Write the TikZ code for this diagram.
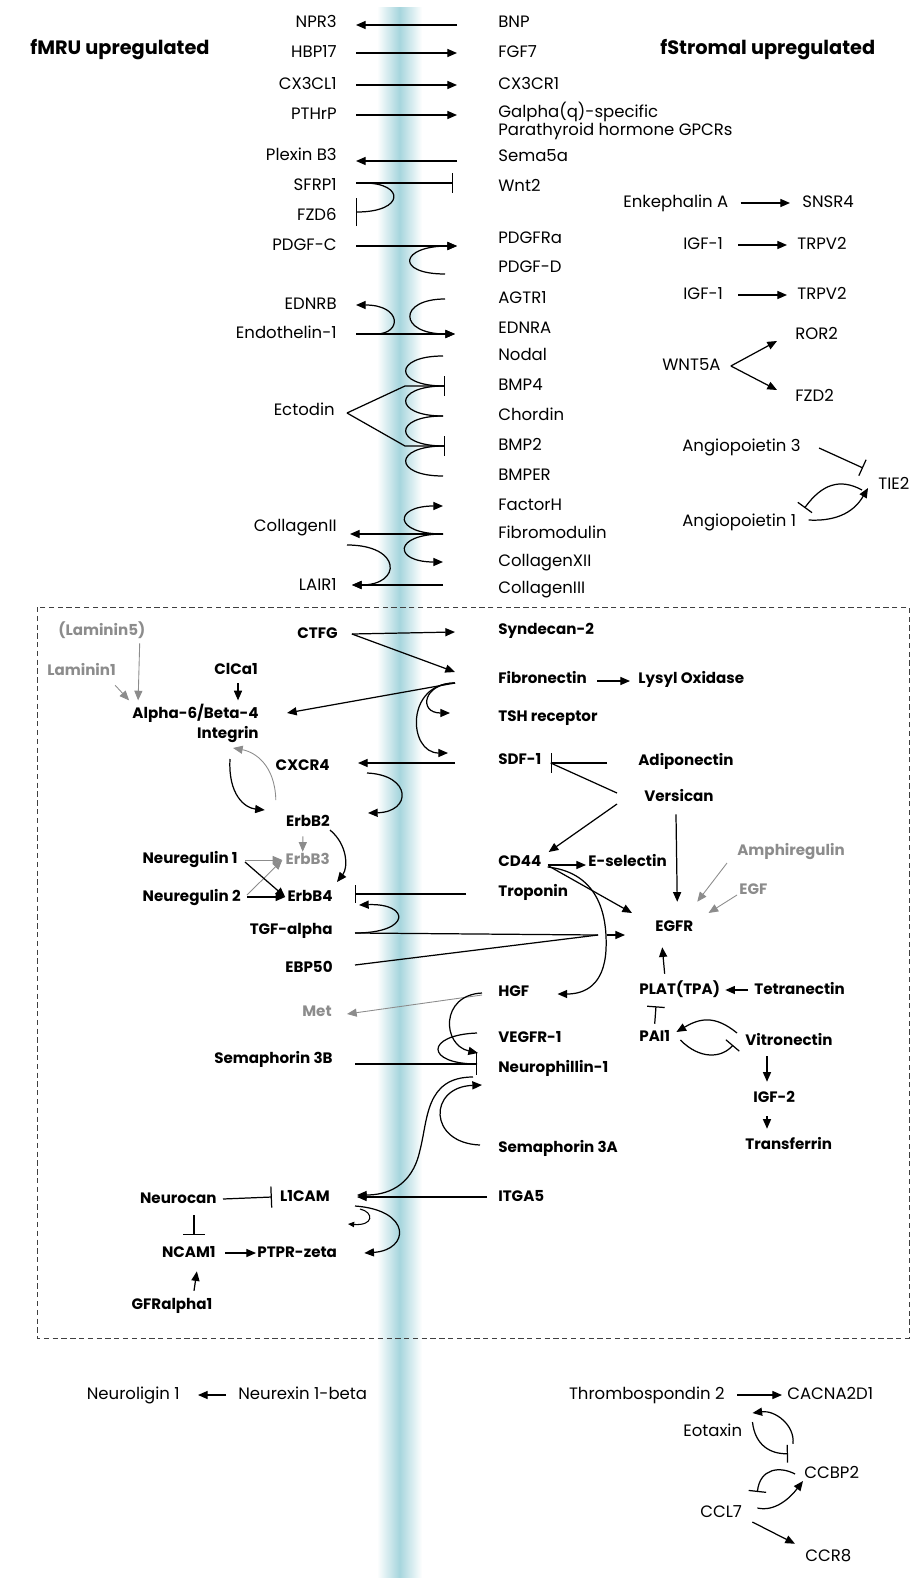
\documentclass[tikz,border=0pt]{standalone}
\usepackage{fontspec}
\setmainfont{Poppins}
\usepackage{tikz}
\usetikzlibrary{arrows.meta, calc}
\definecolor{bandcyan}{RGB}{166,213,221}
\definecolor{lightgrey}{RGB}{140,140,140}

\begin{document}
\begin{tikzpicture}[x=0.02cm, y=-0.02cm,
		txt/.style={inner sep=0pt, font=\fontsize{9.4}{11}\selectfont},
		lbl/.style={txt, text height=7pt, text depth=2pt},
		bld/.style={lbl, font=\bfseries\fontsize{8.6}{11}\selectfont},
		gry/.style={text=lightgrey},
		L/.style={anchor=east}, R/.style={anchor=west},
		act/.style={line width=0.7pt, -{Triangle[length=5.5pt, width=4.6pt]}},
		inh/.style={line width=0.7pt, -{Bar[width=10pt]}},
		gact/.style={act, draw=lightgrey, line width=0.5pt}]
		\useasboundingbox (0,0) rectangle (912,1578);
		\shade[left color=white, right color=white, middle color=bandcyan] (377,8) rectangle (422,1578);
		
		\node[txt, R, font=\bfseries\fontsize{11}{13}\selectfont] (fmru) at (30,50) {fMRU upregulated};
		\node[txt, R, font=\bfseries\fontsize{11}{13}\selectfont] (fstromal) at (660,50) {fStromal upregulated};
		
		\node[lbl, L] (npr3) at (337,23) {NPR3};
		\node[lbl, L] (hbp17) at (337,53) {HBP17};
		\node[lbl, L] (cx3cl1) at (337,85) {CX3CL1};
		\node[lbl, L] (pthrp) at (337,115) {PTHrP};
		\node[lbl, L] (plxnb3) at (337,156) {Plexin B3};
		\node[lbl, L] (sfrp1) at (337,186) {SFRP1};
		\node[lbl, L] (fzd6) at (337,216) {FZD6};
		\node[lbl, L] (pdgfc) at (337,246) {PDGF-C};
		\node[lbl, L] (ednrb) at (337,305) {EDNRB};
		\node[lbl, L] (edn1) at (337,334) {Endothelin-1};
		\node[lbl, L] (ectodin) at (335,411) {Ectodin};
		\node[lbl, L] (col2) at (337,527) {CollagenII};
		\node[lbl, L] (lair1) at (337,586) {LAIR1};
		
		\node[lbl, R] (bnp) at (498,23) {BNP};
		\node[lbl, R] (fgf7) at (498,53) {FGF7};
		\node[lbl, R] (cx3cr1) at (498,85) {CX3CR1};
		\node[txt, R, align=left, font=\fontsize{9.4}{9.4}\selectfont] (gpcr) at (498,121) {Galpha(q)-specific\\Parathyroid hormone GPCRs};
		\node[lbl, R] (sema5a) at (498,157) {Sema5a};
		\node[lbl, R] (wnt2) at (498,187) {Wnt2};
		\node[lbl, R] (pdgfra) at (498,239) {PDGFRa};
		\node[lbl, R] (pdgfd) at (498,268) {PDGF-D};
		\node[lbl, R] (agtr1) at (498,299) {AGTR1};
		\node[lbl, R] (ednra) at (498,329) {EDNRA};
		\node[lbl, R] (nodal) at (498,356) {Nodal};
		\node[lbl, R] (bmp4) at (498,386) {BMP4};
		\node[lbl, R] (chordin) at (498,416) {Chordin};
		\node[lbl, R] (bmp2) at (498,446) {BMP2};
		\node[lbl, R] (bmper) at (498,476) {BMPER};
		\node[lbl, R] (factorh) at (498,506) {FactorH};
		\node[lbl, R] (fmod) at (498,534) {Fibromodulin};
		\node[lbl, R] (col12) at (498,562) {CollagenXII};
		\node[lbl, R] (col3) at (498,589) {CollagenIII};
		
		\draw[act] ($(bnp.west)+(-41,2)$) -- ($(npr3.east)+(19,2)$);
		\draw[act] ($(hbp17.east)+(19,0)$) -- ($(fgf7.west)+(-41,0)$);
		\draw[act] ($(cx3cl1.east)+(19,0)$) -- ($(cx3cr1.west)+(-41,0)$);
		\draw[act] ($(pthrp.east)+(19,0)$) -- ($(gpcr.west)+(-41,-6)$);
		\draw[act] ($(sema5a.west)+(-41,4)$) -- ($(plxnb3.east)+(19,5)$);
		\draw[inh, -{Bar[width=11pt]}] ($(sfrp1.east)+(19,-3)$) -- ($(wnt2.west)+(-45,-4)$);
		\draw[inh, -{Bar[width=16pt]}] ($(sfrp1.east)+(27,-3)$) .. controls (405,183) and (405,212) .. ($(fzd6.east)+(19,-4)$);
		\draw[act] ($(pdgfc.east)+(19,0)$) -- ($(pdgfra.west)+(-41,7)$);
		\draw[act] ($(pdgfd.west)+(-53,6)$) .. controls (395,274) and (400,246) .. ($(pdgfra.west)+(-41,7)$);
		\draw[act] ($(edn1.east)+(19,0)$) -- ($(ednra.west)+(-43,5)$);
		\draw[act] ($(edn1.east)+(19,0)$) -- (376,334) .. controls (402,334) and (402,305) .. ($(ednrb.east)+(19,0)$);
		\draw[act] ($(agtr1.west)+(-53,0)$) .. controls (398,299) and (398,334) .. ($(ednra.west)+(-43,5)$);
		
		\begin{scope}[inh, -{Bar[width=11pt]}]
			\draw ($(ectodin.east)+(12,2)$) -- (405,386) -- ($(bmp4.west)+(-53,0)$);
			\draw ($(ectodin.east)+(12,2)$) -- (405,446) -- ($(bmp2.west)+(-53,0)$);
			\draw ($(nodal.west)+(-55,0)$) .. controls (393,356) and (393,386) .. ($(bmp4.west)+(-53,0)$);
			\draw ($(chordin.west)+(-55,0)$) .. controls (393,416) and (393,386) .. ($(bmp4.west)+(-53,0)$);
			\draw ($(chordin.west)+(-55,0)$) .. controls (393,416) and (393,446) .. ($(bmp2.west)+(-53,0)$);
			\draw ($(bmper.west)+(-55,0)$) .. controls (393,476) and (393,446) .. ($(bmp2.west)+(-53,0)$);
		\end{scope}
		
		\draw[act] ($(fmod.west)+(-55,0)$) -- ($(col2.east)+(13,7)$);
		\draw[act] ($(fmod.west)+(-55,0)$) .. controls (393,534) and (393,506) .. ($(factorh.west)+(-55,0)$);
		\draw[act] ($(fmod.west)+(-55,0)$) .. controls (393,534) and (393,562) .. ($(col12.west)+(-55,0)$);
		\draw[act] ($(col3.west)+(-55,-4)$) -- ($(lair1.east)+(15,-1)$);
		\draw[act] ($(col2.east)+(10,18)$) .. controls (402,545) and (402,585) .. ($(lair1.east)+(15,-1)$);
		
		\node[lbl, R] (enkA) at (623,203) {Enkephalin A};
		\node[lbl, R] (snsr4) at (802,203) {SNSR4};
		\node[lbl, R] (igf1a) at (683,245) {IGF-1};
		\node[lbl, R] (trpv2a) at (797,245) {TRPV2};
		\node[lbl, R] (igf1b) at (683,295) {IGF-1};
		\node[lbl, R] (trpv2b) at (797,295) {TRPV2};
		\node[lbl, R] (wnt5a) at (662,366) {WNT5A};
		\node[lbl, R] (ror2) at (795,335) {ROR2};
		\node[lbl, R] (fzd2) at (795,397) {FZD2};
		\node[lbl, R] (ang3) at (682,447) {Angiopoietin 3};
		\node[lbl, R] (tie2) at (878,485) {TIE2};
		\node[lbl, R] (ang1) at (682,522) {Angiopoietin 1};
		
		\draw[act] ($(enkA.east)+(12,0)$) -- ($(snsr4.west)+(-12,0)$);
		\draw[act] ($(igf1a.east)+(15,0)$) -- ($(trpv2a.west)+(-10,0)$);
		\draw[act] ($(igf1b.east)+(15,0)$) -- ($(trpv2b.west)+(-10,0)$);
		\draw[act] ($(wnt5a.east)+(10,0)$) -- ($(ror2.west)+(-18,6)$);
		\draw[act] ($(wnt5a.east)+(10,0)$) -- ($(fzd2.west)+(-18,-7)$);
		\draw[inh] ($(ang3.east)+(18,1)$) -- ($(tie2.west)+(-15,-17)$);
		\draw[act] ($(ang1.east)+(12,-2)$) .. controls (845,522) and (858,505) .. ($(tie2.west)+(-10,3)$);
		\draw[inh] ($(tie2.west)+(-16,5)$) .. controls (840,478) and (822,484) .. ($(ang1.east)+(8,-14)$);
		
		\draw[dash pattern=on 3pt off 2pt, line width=0.5pt, black!75] (37,607) rectangle (909,1338);
		
		\node[bld, R, gry] (lam5) at (58,631) {(Laminin5)};
		\node[bld, R, gry] (lam1) at (47,671) {Laminin1};
		\node[bld] (clca1) at (236,670) {ClCa1};
		\node[txt, L, align=right, font=\bfseries\fontsize{8.6}{11.4}\selectfont] (itga6b4) at (259,723) {Alpha-6/Beta-4\\Integrin};
		\node[bld, R] (ctfg) at (297,634) {CTFG};
		\node[bld, L] (cxcr4) at (330,766) {CXCR4};
		\node[bld, L] (erbb2) at (330,822) {ErbB2};
		\node[bld, L] (nrg1) at (238,859) {Neuregulin 1};
		\node[bld, L, gry] (erbb3) at (330,860) {ErbB3};
		\node[bld, L] (nrg2) at (241,897) {Neuregulin 2};
		\node[bld, L] (erbb4) at (333,897) {ErbB4};
		\node[bld, L] (tgfa) at (333,930) {TGF-alpha};
		\node[bld, L] (ebp50) at (333,968) {EBP50};
		\node[bld, L, gry] (met) at (332,1012) {Met};
		\node[bld, L] (sema3b) at (333,1059) {Semaphorin 3B};
		\node[bld, L] (l1cam) at (330,1197) {L1CAM};
		\node[bld, L] (ncan) at (217,1199) {Neurocan};
		\node[bld, L] (ncam1) at (216,1253) {NCAM1};
		\node[bld, R] (ptprz) at (257,1253) {PTPR-zeta};
		\node[bld] (gfra1) at (172,1305) {GFRalpha1};
		
		\node[bld, R] (sdc2) at (498,630) {Syndecan-2};
		\node[bld, R] (fn1) at (498,679) {Fibronectin};
		\node[bld, R] (lox) at (638,679) {Lysyl Oxidase};
		\node[bld, R] (tshr) at (498,717) {TSH receptor};
		\node[bld, R] (sdf1) at (498,760) {SDF-1};
		\node[bld, R] (adipoq) at (638,761) {Adiponectin};
		\node[bld, R] (vcan) at (644,797) {Versican};
		\node[bld, R] (cd44) at (498,862) {CD44};
		\node[bld, R] (sele) at (588,862) {E-selectin};
		\node[bld, R, gry] (areg) at (737,851) {Amphiregulin};
		\node[bld, R] (tnn) at (498,892) {Troponin};
		\node[bld, R, gry] (egf) at (739,890) {EGF};
		\node[bld, R] (egfr) at (655,927) {EGFR};
		\node[bld, R] (hgf) at (498,992) {HGF};
		\node[bld, R] (plat) at (639,990) {PLAT(TPA)};
		\node[bld, R] (tnc) at (754,990) {Tetranectin};
		\node[bld, R] (vegfr1) at (498,1038) {VEGFR-1};
		\node[bld, R] (pai1) at (639,1037) {PAI1};
		\node[bld, R] (vtn) at (745,1041) {Vitronectin};
		\node[bld, R] (nrp1) at (498,1068) {Neurophillin-1};
		\node[bld, R] (igf2) at (753,1098) {IGF-2};
		\node[bld, R] (sema3a) at (498,1148) {Semaphorin 3A};
		\node[bld, R] (tf) at (745,1145) {Transferrin};
		\node[bld, R] (itga5) at (498,1197) {ITGA5};
		\coordinate (egfrjoin) at (598,935);
		
		\draw[gact] ($(lam5.south east)+(-6,4)$) -- ($(itga6b4.north west)+(6,-3)$);
		\draw[gact] ($(lam1.south east)+(-1,6)$) -- ($(itga6b4.north west)+(-3,-3)$);
		\draw[act] ($(clca1.south)+(2,5)$) -- ($(itga6b4.north east)+(-21,-3)$);
		\draw[act] ($(ctfg.east)+(14,0)$) -- ($(sdc2.west)+(-43,2)$);
		\draw[act] ($(ctfg.east)+(14,0)$) -- ($(fn1.west)+(-43,-7)$);
		\draw[act] ($(fn1.east)+(10,2)$) -- ($(lox.west)+(-8,2)$);
		\draw[act] ($(fn1.west)+(-43,4)$) -- ($(itga6b4.east)+(28,-10)$);
		\draw[act] ($(fn1.west)+(-43,4)$) .. controls (423,683) and (418,713) .. ($(tshr.west)+(-48,-4)$);
		\draw[act] ($(fn1.west)+(-43,4)$) .. controls (405,683) and (408,753) .. ($(sdf1.west)+(-50,-7)$);
		\draw[act] ($(sdf1.west)+(-43,3)$) -- ($(cxcr4.east)+(28,-3)$);
		\draw[act] ($(cxcr4.east)+(37,7)$) .. controls (412,775) and (412,812) .. ($(erbb2.east)+(38,-9)$);
		\draw[act] ($(itga6b4.east)+(-29,36)$) .. controls (228,795) and (245,808) .. ($(erbb2.west)+(-21,-12)$);
		\draw[gact] ($(erbb2.west)+(-10,-22)$) .. controls (275,765) and (255,752) .. ($(itga6b4.east)+(-26,25)$);
		\draw[act] ($(erbb2.east)+(0,8)$) .. controls (348,845) and (348,868) .. ($(erbb4.east)+(4,-15)$);
		\draw[gact] ($(erbb2.south)+(-5,6)$) -- ($(erbb3.north)+(-5,0)$);
		\draw[gact] ($(nrg1.east)+(7,1)$) -- ($(erbb3.west)+(-3,0)$);
		\draw[gact] ($(nrg2.east)+(6,-2)$) -- ($(erbb3.west)+(-3,0)$);
		\draw[act] ($(nrg1.east)+(7,3)$) -- ($(erbb4.west)+(-2,0)$);
		\draw[act] ($(nrg2.east)+(6,0)$) -- ($(erbb4.west)+(-2,0)$);
		\draw[inh] ($(tnn.west)+(-32,2)$) -- ($(erbb4.east)+(22,-3)$);
		\draw[act] ($(tgfa.east)+(22,3)$) .. controls (412,933) and (410,903) .. ($(erbb4.east)+(26,8)$);
		\draw[line width=0.7pt] ($(tgfa.east)+(22,3)$) -- (egfrjoin);
		\draw[line width=0.7pt] ($(ebp50.east)+(22,-3)$) -- (egfrjoin);
		\draw[act] ($(egfrjoin)+(9,0)$) -- ($(egfr.west)+(-30,8)$);
		\draw[inh, -{Bar[width=11pt]}] ($(adipoq.west)+(-31,2)$) -- ($(sdf1.east)+(9,3)$);
		\draw[line width=0.7pt] ($(vcan.west)+(-27,-4)$) -- ($(sdf1.east)+(9,3)$);
		\draw[act] ($(vcan.west)+(-27,7)$) -- ($(cd44.east)+(7,-10)$);
		\draw[act] ($(vcan.south)+(-3,9)$) -- ($(egfr.north)+(3,-17)$);
		\draw[act] ($(cd44.east)+(6,3)$) -- ($(sele.west)+(-2,3)$);
		\draw[act] ($(cd44.east)+(7,4)$) -- ($(egfr.west)+(-23,-14)$);
		\draw[act] ($(cd44.east)+(6,5)$) .. controls (592,872) and (608,905) .. (606,950) .. controls (604,985) and (585,994) .. ($(hgf.east)+(28,2)$);
		\draw[gact] ($(areg.west)+(-10,12)$) -- ($(egfr.north)+(23,-17)$);
		\draw[gact] ($(egf.west)+(-2,5)$) -- ($(egfr.east)+(15,-14)$);
		\draw[act] ($(plat.north)+(-15,-8)$) -- ($(egfr.south)+(-12,12)$);
		\draw[act] ($(tnc.west)+(-6,0)$) -- ($(plat.east)+(5,0)$);
		\draw[inh] ($(pai1.north)+(0,-5)$) -- ($(plat.south west)+(17,8)$);
		\draw[act] ($(vtn.west)+(-8,-8)$) .. controls (715,1015) and (700,1018) .. ($(pai1.east)+(6,-5)$);
		\draw[inh] ($(pai1.east)+(10,3)$) .. controls (700,1060) and (722,1058) .. ($(vtn.west)+(-12,4)$);
		\draw[act] ($(vtn.south west)+(22,7)$) -- ($(igf2.north west)+(14,-8)$);
		\draw[act] ($(igf2.south west)+(14,10)$) -- ($(tf.north west)+(22,-8)$);
		\draw[gact] ($(hgf.west)+(-16,3)$) -- ($(met.east)+(15,2)$);
		\draw[act] ($(hgf.west)+(-16,1)$) .. controls (440,995) and (442,1045) .. ($(nrp1.west)+(-20,-15)$);
		\draw[line width=0.7pt] ($(vegfr1.west)+(-21,-5)$) .. controls (425,1035) and (425,1064) .. ($(nrp1.west)+(-21,-4)$);
		\draw[inh, -{Bar[width=12pt]}] ($(sema3b.east)+(22,5)$) -- ($(nrp1.west)+(-21,-4)$);
		\draw[act] ($(nrp1.west)+(-25,9)$) .. controls (425,1077) and (428,1120) .. (420,1150) .. controls (412,1188) and (385,1195) .. ($(l1cam.east)+(27,-2)$);
		\draw[act] ($(sema3a.west)+(-18,-3)$) .. controls (428,1143) and (428,1087) .. ($(nrp1.west)+(-16,17)$);
		\draw[act] ($(itga5.west)+(-11,0)$) -- ($(l1cam.east)+(27,0)$);
		\draw[act] ($(l1cam.east)+(25,9)$) .. controls (412,1210) and (410,1250) .. ($(ptprz.east)+(27,0)$);
		\draw[line width=0.6pt, -{Triangle[length=3.5pt, width=3pt]}] ($(l1cam.east)+(30,12)$) .. controls (374,1212) and (374,1226) .. ($(l1cam.east)+(18,27)$);
		\draw[inh, -{Bar[width=12pt]}] ($(ncan.east)+(6,0)$) -- ($(l1cam.west)+(-8,0)$);
		\draw[inh, -{Bar[width=12pt]}] ($(ncan.south east)+(-23,8)$) -- ($(ncam1.north east)+(-22,-10)$);
		\draw[act] ($(ncam1.east)+(9,0)$) -- ($(ptprz.west)+(-1,0)$);
		\draw[act] ($(gfra1.north)+(22,-6)$) -- ($(ncam1.south)+(8,10)$);
		
		\node[lbl, L] (nlgn1) at (180,1395) {Neuroligin 1};
		\node[lbl, R] (nrxn1b) at (238,1395) {Neurexin 1-beta};
		\node[lbl, L] (thbs2) at (725,1395) {Thrombospondin 2};
		\node[lbl, R] (cacna2d1) at (787,1395) {CACNA2D1};
		\node[lbl, R] (eotaxin) at (683,1432) {Eotaxin};
		\node[lbl, R] (ccbp2) at (804,1474) {CCBP2};
		\node[lbl, R] (ccl7) at (700,1513) {CCL7};
		\node[lbl, R] (ccr8) at (805,1557) {CCR8};
		
		\draw[act] ($(nrxn1b.west)+(-12,0)$) -- ($(nlgn1.east)+(18,0)$);
		\draw[act] ($(thbs2.east)+(12,0)$) -- ($(cacna2d1.west)+(-5,0)$);
		\draw[act] ($(ccbp2.north west)+(-11,-22)$) .. controls (795,1425) and (775,1410) .. ($(eotaxin.east)+(10,-19)$);
		\draw[inh] ($(eotaxin.east)+(10,-10)$) .. controls (755,1445) and (770,1454) .. ($(ccbp2.north west)+(-16,-12)$);
		\draw[act] ($(ccl7.east)+(15,-5)$) .. controls (775,1512) and (790,1498) .. ($(ccbp2.west)+(-1,7)$);
		\draw[inh] ($(ccbp2.west)+(-9,0)$) .. controls (780,1466) and (760,1468) .. ($(ccl7.east)+(15,-21)$);
		\draw[act] ($(ccl7.east)+(10,9)$) -- ($(ccr8.north west)+(-10,-5)$);
	\end{tikzpicture}
\end{document}
